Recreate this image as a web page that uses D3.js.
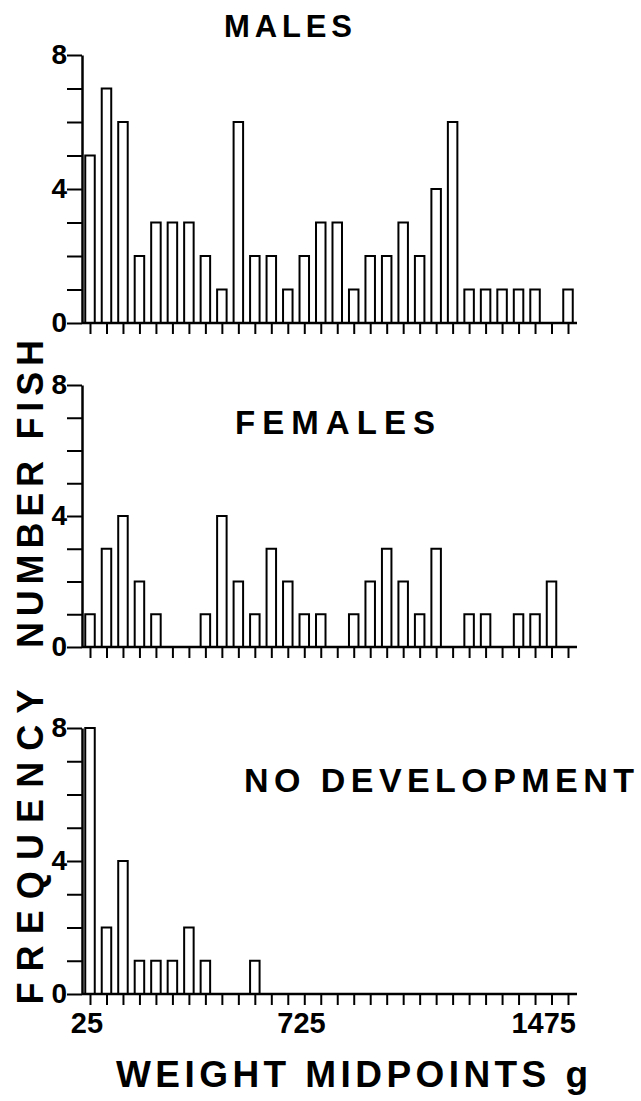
<!DOCTYPE html>
<html>
<head>
<meta charset="utf-8">
<script src="https://cdn.jsdelivr.net/npm/d3@7"></script>
<style>
  body { margin: 0; background: #fff; }
  svg { display: block; }
</style>
</head>
<body>
<svg id="chart" width="641" height="1101"></svg>
<script>

// Weight class midpoints in g (50 g classes)
const midpoints = [
  25, 75, 125, 175, 225, 275, 325, 375, 425, 475,
  525, 575, 625, 675, 725, 775, 825, 875, 925, 975,
  1025, 1075, 1125, 1175, 1225, 1275, 1325, 1375, 1425, 1475
];

// Number of fish in each class
const males = [5, 7, 6, 2, 3, 3, 3, 2, 1, 6, 2, 2, 1, 2, 3, 3, 1, 2, 2, 3, 2, 4, 6, 1, 1, 1, 1, 1, 0, 1];
const females = [1, 3, 4, 2, 1, 0, 0, 1, 4, 2, 1, 3, 2, 1, 1, 0, 1, 2, 3, 2, 1, 3, 0, 1, 1, 0, 1, 1, 2, 0];
const noDevelopment = [8, 2, 4, 1, 1, 1, 2, 1, 0, 0, 1, 0, 0, 0, 0, 0, 0, 0, 0, 0, 0, 0, 0, 0, 0, 0, 0, 0, 0, 0];

// Axis ticks and labels
const yTickValues = [0, 1, 2, 3, 4, 5, 6, 7, 8];
const yTickLabels = [0, 4, 8];
const xTickLabels = [25, 725, 1475];

const font = '"Liberation Sans", Arial, Helvetica, sans-serif';
const svg = d3.select('#chart')
  .attr('font-family', font)
  .attr('font-weight', 'bold');

// Shared x scale, the y axis sits a little left of the first class
const axisX = 82;
const barWidth = 9.5;
const x = d3.scaleLinear()
  .domain([ midpoints[0], midpoints[midpoints.length - 1] ])
  .range([ 90, 568 ]);

// Where each panel goes on the page
const panels = [
  { title: 'MALES', counts: males, top: 55, bottom: 323,
    titleX: 288, titleY: 37, titleSize: 31, titleLength: 128 },
  { title: 'FEMALES', counts: females, top: 385, bottom: 647,
    titleX: 335, titleY: 434, titleSize: 33, titleLength: 200 },
  { title: 'NO DEVELOPMENT', counts: noDevelopment, top: 728, bottom: 994,
    titleX: 439, titleY: 792, titleSize: 34, titleLength: 390 },
];

/**
 * Draws one histogram panel.
 *
 * @param   { object }  p   The panel layout and its counts.
 */
const drawPanel = (p) => {
  const y = d3.scaleLinear().domain([ 0, 8 ]).range([ p.bottom, p.top ]);
  const g = svg.append('g');

  // The bars, empty classes get none
  const rows = p.counts
    .map((n, i) => ({ mid: midpoints[i], n }))
    .filter(d => d.n > 0);

  g.selectAll('rect')
    .data(rows)
    .join('rect')
      .attr('x', d => x(d.mid) - barWidth / 2)
      .attr('y', d => y(d.n))
      .attr('width', barWidth)
      .attr('height', d => y(0) - y(d.n))
      .attr('fill', '#fff')
      .attr('stroke', '#000')
      .attr('stroke-width', 2);

  // Left axis with a tick per fish
  g.append('g')
    .attr('transform', `translate(${axisX},0)`)
    .call(d3.axisLeft(y)
      .tickValues(yTickValues)
      .tickSize(15)
      .tickSizeOuter(0)
      .tickPadding(0)
      .tickFormat(d => yTickLabels.includes(d) ? d : ''))
    .attr('font-size', 28)
    .attr('font-family', font)
    .call(a => a.selectAll('line').attr('stroke', '#000').attr('stroke-width', 2))
    .call(a => a.select('.domain').attr('stroke', '#000').attr('stroke-width', 2.5))
    .call(a => a.selectAll('text').attr('fill', '#000'));

  // Bottom ticks hang from the baseline
  g.append('g')
    .attr('transform', `translate(0,${y(0)})`)
    .call(d3.axisBottom(x).tickValues(midpoints).tickSize(11).tickFormat(''))
    .call(a => a.select('.domain').remove())
    .call(a => a.selectAll('line').attr('stroke', '#000').attr('stroke-width', 2));

  g.append('line')
    .attr('x1', axisX)
    .attr('x2', x(midpoints[midpoints.length - 1]) + 9)
    .attr('y1', y(0))
    .attr('y2', y(0))
    .attr('stroke', '#000')
    .attr('stroke-width', 2.5);

  // Panel title
  g.append('text')
    .attr('x', p.titleX)
    .attr('y', p.titleY)
    .attr('text-anchor', 'middle')
    .attr('font-size', p.titleSize)
    .attr('textLength', p.titleLength)
    .attr('lengthAdjust', 'spacing')
    .text(p.title);

  return y;
};

panels.forEach(drawPanel);

// Class labels under the last panel
const last = panels[panels.length - 1];
svg.append('g')
  .selectAll('text')
  .data(xTickLabels)
  .join('text')
    .attr('x', (d, i) => i === 0 ? x(d) - 3 : x(d) + (i === 1 ? 5 : 8))
    .attr('y', last.bottom + 39)
    .attr('text-anchor', (d, i) => i === 0 ? 'middle' : 'end')
    .attr('font-size', 29)
    .text(d => d);

// Axis titles
svg.append('text')
  .attr('x', 352)
  .attr('y', 1087)
  .attr('text-anchor', 'middle')
  .attr('font-size', 37)
  .attr('textLength', 472)
  .attr('lengthAdjust', 'spacing')
  .text('WEIGHT MIDPOINTS g');

[ { text: 'NUMBER FISH', cy: 494, length: 308 },
  { text: 'FREQUENCY', cy: 847, length: 315 } ].forEach(t => {
  svg.append('text')
    .attr('transform', `translate(43,${t.cy}) rotate(-90)`)
    .attr('text-anchor', 'middle')
    .attr('font-size', 36)
    .attr('textLength', t.length)
    .attr('lengthAdjust', 'spacing')
    .text(t.text);
});

</script>
</body>
</html>
